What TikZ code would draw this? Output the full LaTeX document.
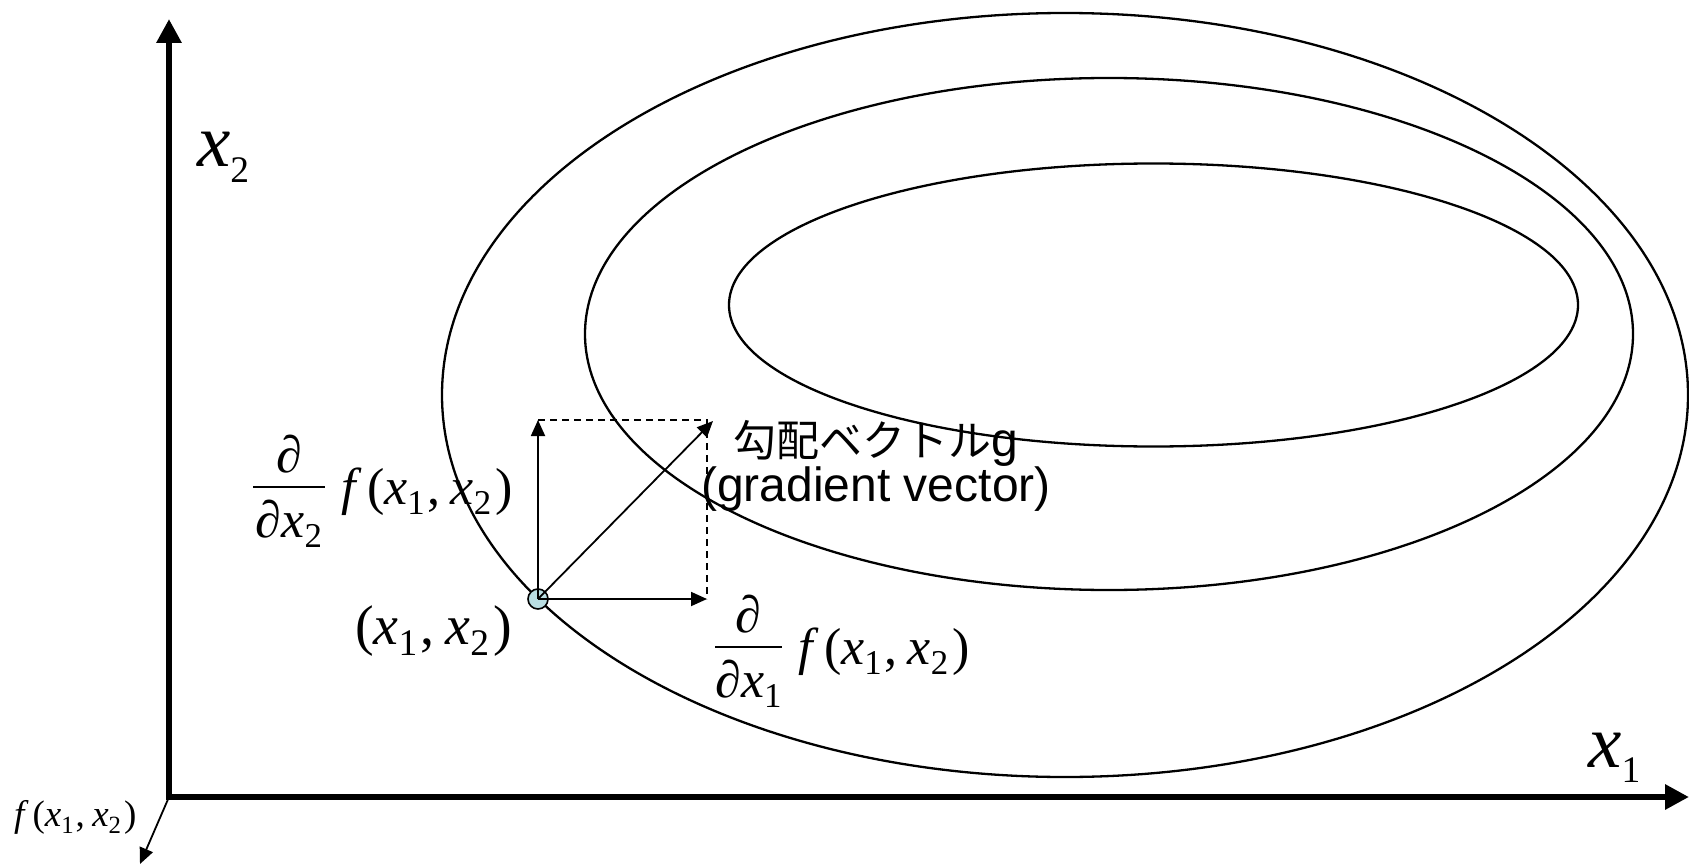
\documentclass[tikz,border=0pt]{standalone}
\usepackage{fontspec}
\usepackage{graphicx}
\setmainfont{Liberation Serif}
\newfontfamily\ari{Liberation Sans}
\newfontfamily\cjk{Noto Sans CJK JP}
\usetikzlibrary{arrows.meta}
\newcommand\vx{{\itshape x}}
\newcommand\sbs[1]{\raisebox{-0.2em}{\scalebox{0.67}{#1}}}
\newcommand\pxx{(\vx\sbs{1}\hspace{0.05em},\hspace{0.2em}\vx\sbs{2}\hspace{0.08em})}
\newcommand\fxx{{\itshape f}\hspace{0.22em}\pxx}
\newcommand\pd{\char"2202}
\tikzset{
  axis/.style={line width=6pt, {Triangle[length=24pt,width=24pt]}-{Triangle[length=24pt,width=24pt]}},
  contour/.style={line width=2.3pt},
  arr/.style={line width=1.8pt, -{Triangle[length=16pt,width=14pt]}},
  dashln/.style={line width=1.5pt, dash pattern=on 7pt off 5pt},
  fml/.style={inner sep=0pt, font=\fontsize{52}{60}\selectfont},
  bar/.style={fill=black, inner sep=0pt, minimum height=2.4pt},
  axlab/.style={inner sep=0pt, font=\fontsize{75}{80}\selectfont},
  txt/.style={inner sep=0pt, align=center, font=\ari\fontsize{48}{42}\selectfont},
}
\begin{document}
\begin{tikzpicture}[x=1pt,y=-1pt]
\useasboundingbox (0,0) rectangle (1689,864);
% contours
\draw[contour] (1065,395) ellipse [x radius=623pt, y radius=382pt];
\draw[contour] (1109,334) ellipse [x radius=524pt, y radius=256pt];
\draw[contour] (1153.5,305) ellipse [x radius=424.5pt, y radius=141.5pt];
% axes
\coordinate (O) at (169,797);
\coordinate (Yt) at (169,19);
\coordinate (Xt) at (1689,797);
\coordinate (Ft) at (140,864);
\draw[axis] (Yt) -- (O) -- (Xt);
\draw[arr] (O) -- (Ft);
\node[axlab, anchor=base west] (lx2) at (197,167) {\vx\raisebox{-0.21em}{\scalebox{0.5}{2}}};
\node[axlab, anchor=base west] (lx1) at (1588,767) {\vx\raisebox{-0.21em}{\scalebox{0.5}{1}}};
\node[fml, font=\fontsize{37}{42}\selectfont, anchor=base west] (lf) at (14,826) {\fxx};
% point and vectors
\node[circle, draw, line width=1.6pt, fill={rgb,255:red,185;green,222;blue,226}, minimum size=20pt, inner sep=0pt] (P) at (538,599) {};
\coordinate (V) at (538,420);
\coordinate (H) at (707,599);
\coordinate (C) at (707,420);
\coordinate (G) at (713,421);
\draw[dashln] (V) -- (C) -- (H);
\draw[arr] (P.center) -- (V);
\draw[arr] (P.center) -- (H);
\draw[arr] (P.center) -- (G);
% labels
\node[fml, font=\fontsize{56}{62}\selectfont, anchor=base west] (lp) at (355,644) {\pxx};
% d/dx2 f
\node[fml, anchor=base] (n2) at (289,472) {\pd};
\node[bar, minimum width=72pt] (b2) at (289,487) {};
\node[fml, anchor=base] (d2) at (289,537) {\pd\vx\sbs{2}};
\node[fml, anchor=base west] (f2) at (341,504) {\fxx};
% d/dx1 f
\node[fml, anchor=base] (n1) at (748.5,632) {\pd};
\node[bar, minimum width=67pt] (b1) at (748.5,647) {};
\node[fml, anchor=base] (d1) at (748.5,697) {\pd\vx\sbs{1}};
\node[fml, anchor=base west] (f1) at (798,664) {\fxx};
% gradient text
\node[txt] (g) at (876,466) {{\cjk\fontsize{43}{42}\selectfont 勾配ベクトル}g\\(gradient vector)};
\end{tikzpicture}
\end{document}
